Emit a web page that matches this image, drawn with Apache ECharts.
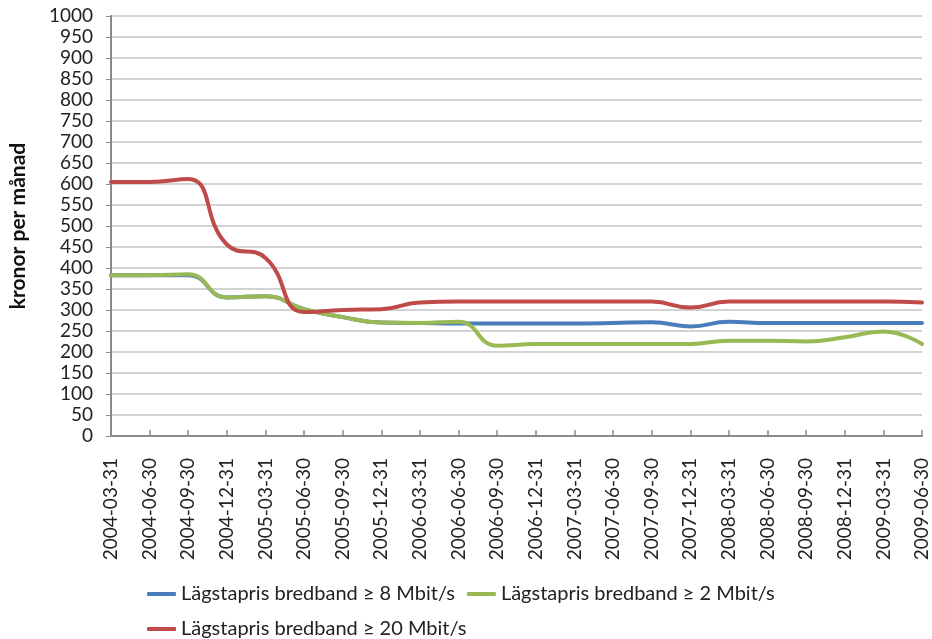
<!DOCTYPE html>
<html>
<head>
<meta charset="utf-8">
<script src="https://cdn.jsdelivr.net/npm/echarts@6/dist/echarts.min.js"></script>
<style>
html,body{margin:0;padding:0;background:#fff;}
#chart{width:932px;height:639px;}
</style>
</head>
<body>
<div id="chart"></div>
<script>
const categories = ['2004-03-31','2004-06-30','2004-09-30','2004-12-31','2005-03-31','2005-06-30','2005-09-30','2005-12-31','2006-03-31','2006-06-30','2006-09-30','2006-12-31','2007-03-31','2007-06-30','2007-09-30','2007-12-31','2008-03-31','2008-06-30','2008-09-30','2008-12-31','2009-03-31','2009-06-30'];
const seriesNames = ['Lägstapris bredband ≥ 8 Mbit/s','Lägstapris bredband ≥ 2 Mbit/s','Lägstapris bredband ≥ 20 Mbit/s'];
const blue  = [383,383,383,330,333,302,283,270,269,268,268,268,268,269,271,261,272,269,269,269,269,269];
const green = [383,383,385,330,333,302,283,270,269,272,215,219,219,219,219,219,227,227,225,235,249,219];
const red   = [605,605,612,456,424,295,300,302,318,320,320,320,320,320,320,306,320,320,320,320,320,318];
const yTicks = {min:0, max:1000, interval:50};
const yName = 'kronor per månad';

const FONT = 'Lato';
const colors = ['#4a7ebb','#98b954','#be4b48'];
const chart = echarts.init(document.getElementById('chart'));
function mk(name, data, color){
  return {name, type:'line', data, smooth:0.5, symbol:'none',
    lineStyle:{color, width:4, cap:'round', join:'round'}, itemStyle:{color}};
}
chart.setOption({
  animation:false,
  textStyle:{fontFamily:FONT},
  grid:{left:108,right:10,top:16,bottom:203,containLabel:false},
  legend:[
    {data:[seriesNames[0],seriesNames[1]], left:142, top:579, icon:'roundRect', itemWidth:29, itemHeight:4, itemGap:12,
     textStyle:{fontFamily:FONT,fontSize:20,color:'#222'}},
    {data:[seriesNames[2]], left:142, top:614, icon:'roundRect', itemWidth:29, itemHeight:4,
     textStyle:{fontFamily:FONT,fontSize:20,color:'#222'}}
  ],
  xAxis:{type:'category', data:categories, boundaryGap:false,
    axisLine:{lineStyle:{color:'#8a8a8a',width:2}},
    axisTick:{show:true, inside:true, length:6, lineStyle:{color:'#8a8a8a',width:1.5}},
    axisLabel:{rotate:90, interval:0, margin:22, fontSize:19, color:'#222', fontFamily:FONT},
    splitLine:{show:false}},
  yAxis:{type:'value', min:yTicks.min, max:yTicks.max, interval:yTicks.interval,
    name:yName, nameLocation:'middle', nameGap:82, nameRotate:90,
    nameTextStyle:{fontFamily:FONT, fontSize:21, fontWeight:'bold', color:'#111'},
    axisLine:{show:true, lineStyle:{color:'#8a8a8a',width:2}},
    axisTick:{show:true, length:5, lineStyle:{color:'#8a8a8a'}},
    axisLabel:{fontSize:19, color:'#222', margin:18, fontFamily:FONT, formatter:v=>String(v)},
    splitLine:{lineStyle:{color:'#c4c4c4',width:1.5}}},
  series:[mk(seriesNames[0],blue,colors[0]), mk(seriesNames[1],green,colors[1]), mk(seriesNames[2],red,colors[2])]
});
</script>
</body>
</html>
